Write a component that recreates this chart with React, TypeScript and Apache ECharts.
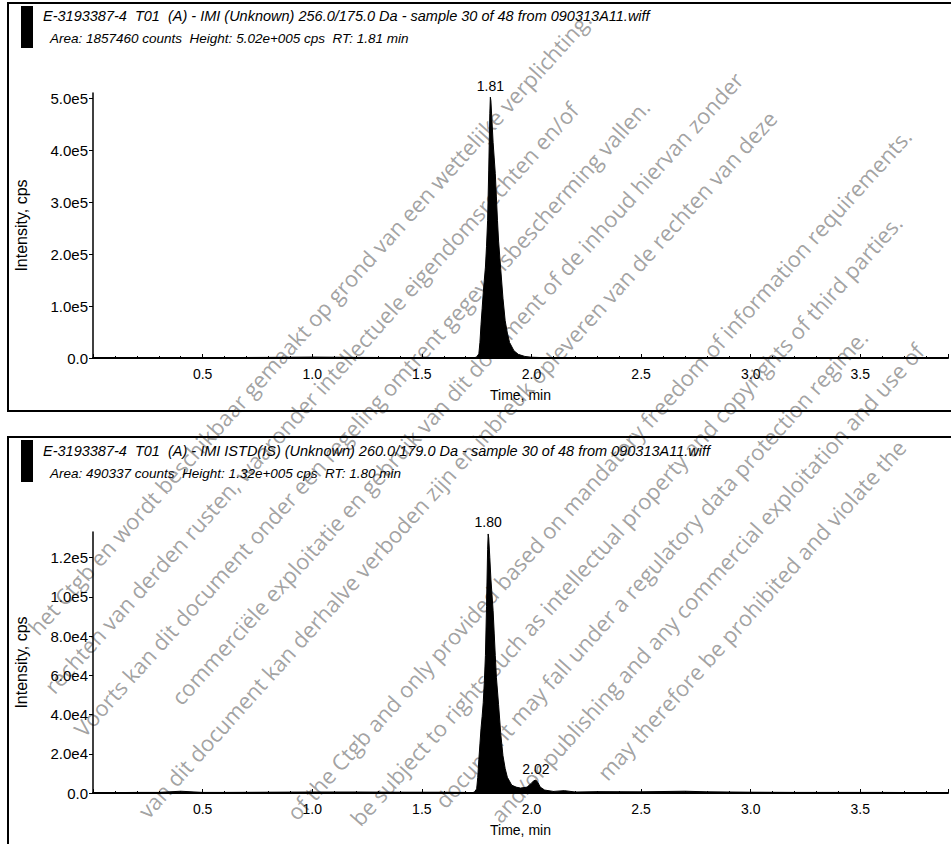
import React, { useEffect, useRef } from "react";
import * as echarts from "echarts";

// ---- data ----
const topTimes = [
  0.0, 0.1, 0.2, 0.3, 0.4, 0.5, 0.6, 0.7, 0.8, 0.9, 1.0, 1.1, 1.2, 1.3, 1.4, 1.5, 1.6, 1.7,
  1.74, 1.75, 1.76, 1.765, 1.77, 1.775, 1.78, 1.785, 1.79, 1.795, 1.8, 1.805, 1.81, 1.8125,
  1.815, 1.82, 1.825, 1.83, 1.835, 1.84, 1.845, 1.85, 1.86, 1.87, 1.88, 1.89, 1.9, 1.92, 1.94,
  1.97, 2.0, 2.05, 2.1, 2.2, 2.4, 2.6, 2.8, 3.0, 3.2, 3.4, 3.6, 3.8, 3.9,
];
const topValues = [
  0, 300, 200, 500, 300, 400, 800, 1000, 1200, 1500, 1800, 1500, 1200, 1000, 900, 800, 700, 500,
  500, 2000, 8000, 30000, 65000, 95000, 125000, 150000, 175000, 215000, 265000, 360000, 470000, 502000,
  495000, 455000, 415000, 385000, 355000, 310000, 265000, 225000, 170000, 115000, 72000, 48000, 30000, 14000, 7000,
  3000, 1500, 800, 600, 500, 400, 300, 300, 200, 200, 200, 150, 150, 100,
];

const bottomTimes = [
  0.0, 0.1, 0.2, 0.3, 0.4, 0.5, 0.6, 0.8, 1.0, 1.2, 1.4, 1.6, 1.7, 1.73,
  1.74, 1.75, 1.755, 1.76, 1.765, 1.77, 1.775, 1.78, 1.785, 1.79, 1.795, 1.8, 1.8025,
  1.805, 1.81, 1.815, 1.82, 1.825, 1.83, 1.835, 1.84, 1.85, 1.86, 1.87, 1.88, 1.89, 1.91,
  1.93, 1.95, 1.98, 2.0, 2.01, 2.02, 2.03, 2.04, 2.06, 2.1, 2.15, 2.2, 2.3, 2.5, 2.7, 2.8,
  3.0, 3.2, 3.4, 3.6, 3.8, 3.9,
];
const bottomValues = [
  0, 200, 300, 300, 900, 300, 300, 400, 500, 500, 400, 400, 300, 130,
  500, 2100, 7900, 17000, 25000, 33000, 39000, 46000, 56500, 70000, 95000, 124000, 132000,
  130000, 120000, 109000, 101000, 93000, 81500, 70000, 59000, 45000, 30000, 19000, 12500, 8000, 4000,
  3000, 2500, 3000, 5000, 6200, 6600, 5200, 3000, 1500, 800, 1200, 500, 700, 600, 900, 600,
  400, 300, 300, 300, 200, 200,
];

const topPeak = { time: 1.8125, value: 502000, label: "1.81" };
const bottomPeaks = [
  { time: 1.8025, value: 132000, label: "1.80" },
  { time: 2.02, value: 6600, label: "2.02" },
];

const topYTicks = [0, 100000, 200000, 300000, 400000, 500000];
const bottomYTicks = [0, 20000, 40000, 60000, 80000, 100000, 120000];

const topTitle =
  "E-3193387-4  T01  (A) - IMI (Unknown) 256.0/175.0 Da - sample 30 of 48 from 090313A11.wiff";
const topInfo = "Area: 1857460 counts  Height: 5.02e+005 cps  RT: 1.81 min";
const bottomTitle =
  "E-3193387-4  T01  (A) - IMI ISTD(IS) (Unknown) 260.0/179.0 Da - sample 30 of 48 from 090313A11.wiff";
const bottomInfo = "Area: 490337 counts  Height: 1.32e+005 cps  RT: 1.80 min";

// watermark lines (text, and the word used to anchor it)
const watermarkLines = [
  "Dit document is afkomstig van het Ctgb en wordt beschikbaar gemaakt op grond van een wettelijke verplichting.",
  "Op dit document kunnen rechten van derden rusten, waaronder intellectuele eigendomsrechten en/of auteursrechten.",
  "Voorts kan dit document onder een regeling omtrent gegevensbescherming vallen.",
  "Openbaarmaking, verveelvoudiging, commerciële exploitatie en gebruik van dit document of de inhoud hiervan zonder",
  "toestemming van de eigenaar van dit document kan derhalve verboden zijn en inbreuk opleveren van de rechten van deze rechthebbende.",
  "This document is a publication of the Ctgb and only provided based on mandatory freedom of information requirements.",
  "This document may be subject to rights such as intellectual property and copyrights of third parties.",
  "Furthermore, this document may fall under a regulatory data protection regime.",
  "Consequently, any distribution, reproduction and/or publishing and any commercial exploitation and use of this document",
  "or its contents without the permission of the owner of this document may therefore be prohibited and violate the rights of its owner.",
];
const watermarkAnchors = [
  "gemaakt",
  "intellectuele",
  "gegevensbescherming",
  "document of",
  "inbreuk",
  "mandatory",
  "intellectual",
  "regulatory",
  "commercial",
  "therefore",
];

const FONT = "'Liberation Sans', Arial, sans-serif";
const WM_FONT_SIZE = 22;
const WM_FONT = `${WM_FONT_SIZE}px 'Open Sans', 'DejaVu Sans', sans-serif`;

function sci(v: number): string {
  if (v === 0) return "0.0";
  const e = Math.floor(Math.log10(v) + 1e-9);
  const m = v / Math.pow(10, e);
  return m.toFixed(1) + "e" + e;
}

function xLabel(v: number): string {
  if (v <= 0.001) return "";
  if (Math.abs(v * 2 - Math.round(v * 2)) > 1e-6) return "";
  if (v > 3.6) return "";
  return v.toFixed(1);
}

function pairs(t: number[], v: number[]) {
  return t.map((x, i) => [x, v[i]]);
}

export default function App() {
  const ref = useRef<HTMLDivElement>(null);

  useEffect(() => {
    document.body.style.margin = "0";
    if (!ref.current) return;
    const chart = echarts.init(ref.current, null, { renderer: "svg" });

    const W = 951;
    const H = 844;
    const canvas = document.createElement("canvas");
    const ctx = canvas.getContext("2d")!;
    ctx.font = WM_FONT;

    // watermark layout: along-line anchor points and perpendicular offsets
    const anchorPts: [number, number][] = [
      [245, 392],
      [322, 394],
      [440, 322],
      [482, 384],
      [470, 437],
      [580, 525],
      [560, 625],
      [650, 615],
      [690, 625],
      [640, 745],
    ];
    const lineOffsets = [446, 497, 548, 599, 650, 762, 813, 864, 915, 966];
    const theta = (48 * Math.PI) / 180;
    const ux = Math.cos(theta);
    const uy = -Math.sin(theta);
    const nx = Math.sin(theta);
    const ny = Math.cos(theta);
    const half = WM_FONT_SIZE * 0.62;
    const inside = (x: number, y: number) => x >= 2 && x <= W - 2 && y >= 2 && y <= H - 2;

    const watermark: any[] = [];
    watermarkLines.forEach((text, i) => {
      const idx = Math.max(text.indexOf(watermarkAnchors[i]), 0);
      const [ax, ay] = anchorPts[i];
      const t = ax * ux + ay * uy;
      const d = lineOffsets[i];
      const px = t * ux + d * nx;
      const py = t * uy + d * ny;
      const pre = ctx.measureText(text.slice(0, idx)).width;
      const sx = px - pre * ux;
      const sy = py - pre * uy;
      // keep only the words that fall fully inside the picture
      const words = text.split(" ");
      const kept: { word: string; start: number }[] = [];
      words.forEach((word, k) => {
        const prefix = words.slice(0, k).join(" ") + (k > 0 ? " " : "");
        const s = ctx.measureText(prefix).width;
        const e = s + ctx.measureText(word).width;
        const pts = [s, e].flatMap((o) => {
          const cx = sx + o * ux;
          const cy = sy + o * uy;
          return [
            [cx + half * nx, cy + half * ny],
            [cx - half * nx, cy - half * ny],
          ];
        });
        if (pts.every(([x, y]) => inside(x, y))) kept.push({ word, start: s });
      });
      if (!kept.length) return;
      const visible = kept.map((k) => k.word).join(" ");
      const o = kept[0].start;
      watermark.push({
        type: "text",
        x: sx + o * ux,
        y: sy + o * uy,
        rotation: theta,
        silent: true,
        z: 0,
        style: {
          text: visible,
          fill: "rgba(110,110,110,0.65)",
          font: WM_FONT,
          textAlign: "left",
          textVerticalAlign: "middle",
        },
      });
    });

    const xAxisBase = (gridIndex: number) => ({
      type: "value",
      gridIndex,
      min: 0,
      max: 3.9,
      interval: 0.5,
      name: "Time, min",
      nameLocation: "middle",
      nameGap: 30,
      nameTextStyle: { color: "#000", fontFamily: FONT, fontSize: 14 },
      axisLine: { show: true, lineStyle: { color: "#000", width: 2 } },
      axisTick: { show: true, inside: true, length: 4, lineStyle: { color: "#000" } },
      minorTick: { show: true, splitNumber: 5, length: 2, lineStyle: { color: "#000" } },
      axisLabel: { color: "#000", fontFamily: FONT, fontSize: 14, margin: 9, formatter: xLabel },
      splitLine: { show: false },
    });

    const yAxisBase = (gridIndex: number, max: number, ticks: number[]) => ({
      type: "value",
      gridIndex,
      min: 0,
      max,
      name: "Intensity, cps",
      nameLocation: "middle",
      nameGap: 64,
      nameTextStyle: { color: "#000", fontFamily: FONT, fontSize: 16 },
      axisLine: { show: true, lineStyle: { color: "#000", width: 1.5 } },
      axisTick: { show: true, length: 4, customValues: ticks, lineStyle: { color: "#000" } },
      axisLabel: {
        color: "#000",
        fontFamily: FONT,
        fontSize: 15,
        margin: 5,
        customValues: ticks,
        formatter: (v: number) => sci(v),
      },
      splitLine: { show: false },
    });

    const markLabel = (p: { time: number; value: number; label: string }) => ({
      coord: [p.time, p.value],
      value: p.label,
      symbol: "rect",
      symbolSize: [1, 1],
      itemStyle: { color: "rgba(0,0,0,0)" },
      label: {
        show: true,
        position: "top",
        distance: 4,
        color: "#000",
        fontFamily: FONT,
        fontSize: 14,
        formatter: p.label,
      },
    });

    const titleText = (x: number, y: number, text: string, size: number) => ({
      type: "text",
      x,
      y,
      z: 1,
      style: {
        text,
        fill: "#000",
        font: `italic ${size}px ${FONT}`,
        textVerticalAlign: "middle",
      },
    });

    chart.setOption({
      animation: false,
      backgroundColor: "#fff",
      grid: [
        { left: 93, top: 93, width: 858, height: 265 },
        { left: 93, top: 532, width: 858, height: 261 },
      ],
      xAxis: [xAxisBase(0), xAxisBase(1)],
      yAxis: [yAxisBase(0, 510000, topYTicks), yAxisBase(1, 133000, bottomYTicks)],
      series: [
        {
          type: "line",
          xAxisIndex: 0,
          yAxisIndex: 0,
          data: pairs(topTimes, topValues),
          symbol: "none",
          lineStyle: { color: "#000", width: 1 },
          areaStyle: { color: "#000", opacity: 1 },
          markPoint: { data: [markLabel(topPeak)] },
        },
        {
          type: "line",
          xAxisIndex: 1,
          yAxisIndex: 1,
          data: pairs(bottomTimes, bottomValues),
          symbol: "none",
          lineStyle: { color: "#000", width: 1 },
          areaStyle: { color: "#000", opacity: 1 },
          markPoint: { data: bottomPeaks.map(markLabel) },
        },
      ],
      graphic: [
        ...watermark,
        {
          type: "rect",
          z: 1,
          shape: { x: 8, y: 3, width: 960, height: 408 },
          style: { fill: "none", stroke: "#000", lineWidth: 2 },
        },
        {
          type: "rect",
          z: 1,
          shape: { x: 8, y: 437, width: 960, height: 420 },
          style: { fill: "none", stroke: "#000", lineWidth: 2 },
        },
        { type: "rect", z: 1, shape: { x: 21, y: 6, width: 12, height: 42 }, style: { fill: "#000" } },
        { type: "rect", z: 1, shape: { x: 21, y: 440, width: 12, height: 42 }, style: { fill: "#000" } },
        titleText(43, 16, topTitle, 14.5),
        titleText(50, 38, topInfo, 13.5),
        titleText(43, 451, bottomTitle, 14.5),
        titleText(50, 473, bottomInfo, 13.5),
      ],
    });

    return () => chart.dispose();
  }, []);

  return (
    <div style={{ width: 951, height: 844, overflow: "hidden", position: "relative" }}>
      <div ref={ref} style={{ width: 951, height: 844 }} />
    </div>
  );
}
